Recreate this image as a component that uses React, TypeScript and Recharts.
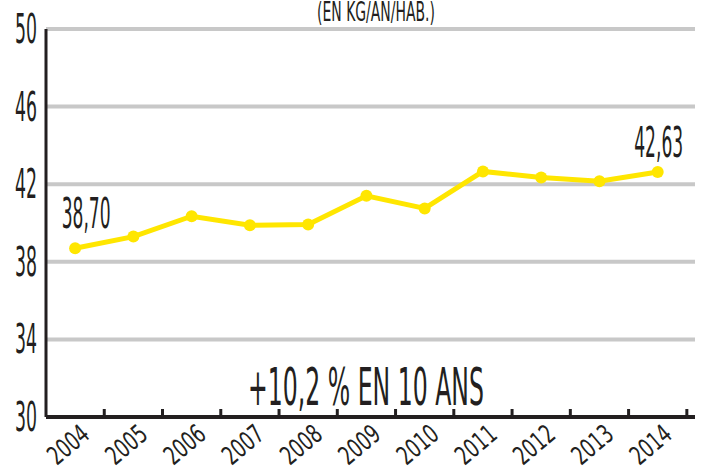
import React from 'react';
import { LineChart, Line, XAxis, YAxis, CartesianGrid } from 'recharts';

// tonnage par habitant, 2004-2014
const YEARS = ['2004', '2005', '2006', '2007', '2008', '2009', '2010', '2011', '2012', '2013', '2014'];
const VALUES = [38.7, 39.3, 40.35, 39.88, 39.92, 41.4, 40.75, 42.66, 42.35, 42.15, 42.63];
const Y_TICKS = [30, 34, 38, 42, 46, 50];
const TITLE = '(EN KG/AN/HAB.)';
const NOTE = '+10,2 % EN 10 ANS';

const W = 701;
const H = 473;
const MARGIN = { top: 29, right: 6, left: 0, bottom: 0 };
const Y_AXIS_W = 46;
const X_DOMAIN: [number, number] = [-0.5, 10.64];
const BAND = (W - MARGIN.right - Y_AXIS_W) / (X_DOMAIN[1] - X_DOMAIN[0]);

const INK = '#231f20';
const YELLOW = '#ffe600';
const FONT = '"Liberation Sans Narrow", "DejaVu Sans Condensed", sans-serif';

const data = YEARS.map((year, i) => ({ idx: i, year, value: VALUES[i] }));

const XTick = (props: any) => {
  const { x, y, payload } = props;
  const tx = x + 16;
  const ty = y + 20;
  return (
    <g>
      <line x1={x + BAND / 2} y1={y + 1} x2={x + BAND / 2} y2={y - 8} stroke={INK} strokeWidth={3} />
      <text
        x={tx}
        y={ty}
        transform={`rotate(-40 ${tx} ${ty})`}
        textAnchor="end"
        fontFamily={FONT}
        fontSize={26}
        textLength={45}
        lengthAdjust="spacingAndGlyphs"
        fill={INK}
      >
        {YEARS[payload.value]}
      </text>
    </g>
  );
};

const YTick = (props: any) => {
  const { x, y, payload } = props;
  return (
    <text
      x={x}
      y={y + 14}
      textAnchor="end"
      fontFamily={FONT}
      fontSize={40}
      textLength={22}
      lengthAdjust="spacingAndGlyphs"
      fill={INK}
    >
      {payload.value}
    </text>
  );
};

const ValueLabel = (props: any) => {
  const { x, y, value, index } = props;
  if (index !== 0 && index !== VALUES.length - 1) return null;
  const dx = index === 0 ? 11 : 1;
  const dy = index === 0 ? -20 : -15;
  return (
    <text
      x={x + dx}
      y={y + dy}
      textAnchor="middle"
      fontFamily={FONT}
      fontSize={43}
      textLength={49}
      lengthAdjust="spacingAndGlyphs"
      fill={INK}
    >
      {Number(value).toFixed(2).replace('.', ',')}
    </text>
  );
};

export default function App() {
  return (
    <div style={{ position: 'absolute', left: 0, top: 0, width: W, height: H, background: '#fff' }}>
      <LineChart width={W} height={H} data={data} margin={MARGIN}>
        <CartesianGrid vertical={false} stroke="#c8c8c8" strokeWidth={4} />
        <XAxis
          type="number"
          dataKey="idx"
          domain={X_DOMAIN}
          ticks={YEARS.map((_, i) => i)}
          interval={0}
          height={56}
          tickSize={0}
          tickMargin={0}
          tickLine={false}
          axisLine={{ stroke: INK, strokeWidth: 4 }}
          tick={<XTick />}
        />
        <YAxis
          domain={[30, 50]}
          ticks={Y_TICKS}
          width={Y_AXIS_W}
          tickSize={0}
          tickMargin={9}
          tickLine={false}
          axisLine={{ stroke: INK, strokeWidth: 3 }}
          tick={<YTick />}
        />
        <Line
          dataKey="value"
          stroke={YELLOW}
          strokeWidth={5}
          dot={{ r: 6, fill: YELLOW, stroke: 'none' }}
          label={<ValueLabel />}
          isAnimationActive={false}
        />
      </LineChart>
      <svg width={W} height={H} style={{ position: 'absolute', left: 0, top: 0, pointerEvents: 'none' }}>
        <text x={317} y={21} fontFamily={FONT} fontSize={26} textLength={118} lengthAdjust="spacingAndGlyphs" fill={INK}>
          {TITLE}
        </text>
        <text x={248} y={405} fontFamily={FONT} fontSize={52} textLength={236} lengthAdjust="spacingAndGlyphs" fill={INK}>
          {NOTE}
        </text>
      </svg>
    </div>
  );
}
